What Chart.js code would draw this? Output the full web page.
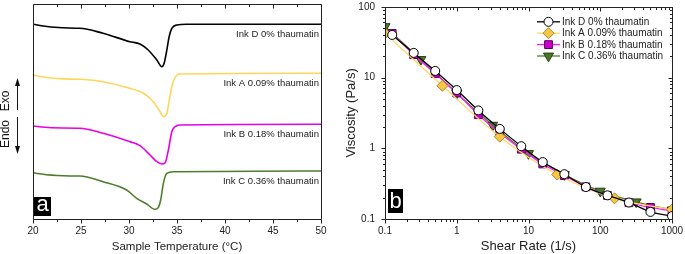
<!DOCTYPE html>
<html><head><meta charset="utf-8">
<script src="https://cdn.jsdelivr.net/npm/chart.js@4.4.0/dist/chart.umd.min.js"></script>
<style>
html,body{margin:0;padding:0;background:#fff;width:685px;height:254px;overflow:hidden}
#ca{position:absolute;left:0;top:0}
#cb{position:absolute;left:340px;top:0}
</style></head><body>
<canvas id="ca" width="340" height="254"></canvas>
<canvas id="cb" width="345" height="254"></canvas>
<script>
const FONT = "'Liberation Sans', Arial, Helvetica, sans-serif";

// ---------- Panel a: DSC curves (heat flow, arbitrary offset units) ----------
const seriesNames = ['Ink D 0% thaumatin', 'Ink A 0.09% thaumatin', 'Ink B 0.18% thaumatin', 'Ink C 0.36% thaumatin'];

const tempD = [20, 20.05, 24.85, 27.3, 30.1, 31.14, 32.0, 32.9, 33.42, 33.66, 33.94, 34.18, 34.46, 34.99, 36, 50];
const heatD = [197.3, 194.7, 190.7, 185.7, 177.3, 175, 169, 159, 152.3, 155.7, 169, 182.3, 190.7, 194, 194.7, 194.7];

const tempA = [20, 20.05, 24.85, 30.1, 31.5, 32.54, 33.24, 33.58, 33.94, 34.2, 34.46, 34.81, 35.3, 50];
const heatA = [147.3, 144, 139.7, 130.7, 125.7, 117.3, 107.3, 102.3, 105.7, 119, 132.3, 141.7, 145, 145.7];

const tempB = [20, 20.05, 24.85, 27.3, 30.1, 31.14, 32.19, 32.9, 33.42, 33.77, 34.1, 34.46, 34.81, 35.3, 50];
const heatB = [97.3, 93, 90.7, 85.7, 77.3, 73.3, 64, 57.3, 55, 56.3, 69, 87.3, 92.3, 94, 94.7];

const tempC = [20, 20.05, 24.85, 27.3, 29.75, 30.8, 31.85, 32.7, 33.06, 33.3, 33.58, 33.94, 34.64, 50];
const heatC = [50.7, 46.3, 43, 37.3, 29, 20.7, 15, 9.7, 11.7, 19, 35.7, 45.7, 47.3, 48];

const tempTicks = [20, 25, 30, 35, 40, 45, 50];
const tempMinorTicks = [22.5, 27.5, 32.5, 37.5, 42.5, 47.5];

// ---------- Panel b: viscosity vs shear rate ----------
const rateD = [0.126, 0.251, 0.501, 1, 2, 3.98, 7.94, 15.8, 31.6, 63.1, 126, 251, 501, 1000];
const viscD = [40, 22.3, 12.4, 6.65, 3.43, 1.88, 1.07, 0.638, 0.43, 0.283, 0.216, 0.171, 0.126, 0.11];

const rateA = [0.1, 0.631, 3.98, 25.1, 158, 1000];
const viscA = [42, 7.65, 1.46, 0.425, 0.196, 0.136];

const rateB = [0.126, 0.251, 0.501, 1, 2, 3.98, 7.94, 15.8, 31.6, 63.1, 126, 251, 501, 1000];
const viscB = [42, 21, 11.4, 6.04, 2.98, 1.65, 0.97, 0.6, 0.41, 0.285, 0.215, 0.17, 0.146, 0.13];

const rateC = [0.1, 0.316, 1, 3.16, 10, 31.6, 100, 316, 1000];
const viscC = [52.6, 18.0, 5.98, 2.12, 0.843, 0.425, 0.248, 0.175, 0.134];

const rateTicks = [0.1, 1, 10, 100, 1000];
const rateTickLabels = ['0.1', '1', '10', '100', '1000'];
const viscTicks = [0.1, 1, 10, 100];
const viscTickLabels = ['0.1', '1', '10', '100'];

const xy = (xs, ys) => xs.map((x, i) => ({x: x, y: ys[i]}));
function minorLog(decades) {
  const out = [];
  for (let d = 0; d < decades.length - 1; d++) for (let k = 2; k <= 9; k++) out.push(decades[d] * k);
  return out;
}
function crisp(p) { return Math.round(p) + 0.5; }
function noPad(s) { s.paddingTop = 0; s.paddingBottom = 0; s.paddingLeft = 0; s.paddingRight = 0; }

function frameAndTicks(cfg) {
  return {
    id: 'frameTicks',
    afterDatasetsDraw(chart) {
      const {ctx, chartArea: a, scales} = chart;
      const xs = scales.x, ys = scales.y;
      ctx.save();
      ctx.strokeStyle = '#222';
      ctx.lineWidth = 1;
      const L = crisp(a.left), R = crisp(a.right), T = crisp(a.top), B = crisp(a.bottom);
      ctx.beginPath();
      ctx.moveTo(L, T); ctx.lineTo(R, T); ctx.lineTo(R, B); ctx.lineTo(L, B); ctx.closePath();
      ctx.stroke();
      ctx.beginPath();
      const hx = (vals, len) => vals.forEach(v => {
        const p = crisp(xs.getPixelForValue(v));
        if (cfg.bottomOut) { ctx.moveTo(p, B); ctx.lineTo(p, B + len); }
        if (cfg.topIn) { ctx.moveTo(p, T); ctx.lineTo(p, T + len); }
      });
      const vy = (vals, len) => vals.forEach(v => {
        const p = crisp(ys.getPixelForValue(v));
        if (cfg.leftOut) { ctx.moveTo(L, p); ctx.lineTo(L - len, p); }
        if (cfg.rightIn) { ctx.moveTo(R, p); ctx.lineTo(R - len, p); }
      });
      hx(cfg.xMajor, 4); hx(cfg.xMinor, 2.5);
      if (cfg.yMajor) { vy(cfg.yMajor, 4); vy(cfg.yMinor, 2.5); }
      ctx.stroke();
      // panel letter
      ctx.fillStyle = '#000';
      ctx.fillRect(a.left + cfg.box[0], a.bottom + cfg.box[1], cfg.box[2], cfg.box[3]);
      ctx.fillStyle = '#fff';
      ctx.font = '22px ' + FONT;
      ctx.textAlign = 'center';
      ctx.textBaseline = 'alphabetic';
      ctx.fillText(cfg.letter, a.left + cfg.box[0] + cfg.box[2] / 2, a.bottom + cfg.box[1] + cfg.box[3] - cfg.base);
      ctx.restore();
    }
  };
}

const dscColors = ['#000000', '#ffd55a', '#e800e8', '#4e7d2b'];
const dscData = [xy(tempD, heatD), xy(tempA, heatA), xy(tempB, heatB), xy(tempC, heatC)];

const dscLabels = {
  id: 'dscLabels',
  afterDatasetsDraw(chart) {
    const {ctx, scales: {x, y}} = chart;
    ctx.save();
    ctx.font = '9.5px ' + FONT;
    ctx.fillStyle = '#222';
    ctx.textAlign = 'right';
    ctx.textBaseline = 'middle';
    chart.data.datasets.forEach((ds, i) => {
      const last = ds.data[ds.data.length - 1];
      ctx.fillText(seriesNames[i], x.getPixelForValue(50) - 2, y.getPixelForValue(last.y) + 10);
    });
    // Endo / Exo annotation
    ctx.fillStyle = '#111';
    ctx.font = '12px ' + FONT;
    ctx.textAlign = 'center';
    ctx.textBaseline = 'middle';
    const yc = y.getPixelForValue(100);
    ctx.save(); ctx.translate(6, yc - 18); ctx.rotate(-Math.PI / 2); ctx.fillText('Exo', 0, 0); ctx.restore();
    ctx.save(); ctx.translate(6, yc + 15); ctx.rotate(-Math.PI / 2); ctx.fillText('Endo', 0, 0); ctx.restore();
    ctx.strokeStyle = '#111'; ctx.lineWidth = 1;
    const ax = 17.5;
    ctx.beginPath(); ctx.moveTo(ax, yc - 9); ctx.lineTo(ax, yc - 38); ctx.stroke();
    ctx.beginPath(); ctx.moveTo(ax, yc - 41); ctx.lineTo(ax - 2.5, yc - 33); ctx.lineTo(ax + 2.5, yc - 33); ctx.closePath(); ctx.fill();
    ctx.beginPath(); ctx.moveTo(ax, yc - 2); ctx.lineTo(ax, yc + 32); ctx.stroke();
    ctx.beginPath(); ctx.moveTo(ax, yc + 35); ctx.lineTo(ax - 2.5, yc + 27); ctx.lineTo(ax + 2.5, yc + 27); ctx.closePath(); ctx.fill();
    ctx.restore();
  }
};

new Chart(document.getElementById('ca'), {
  type: 'line',
  data: {
    datasets: dscData.map((d, i) => ({
      label: seriesNames[i], data: d, borderColor: dscColors[i], borderWidth: 1.6,
      pointRadius: 0, cubicInterpolationMode: 'monotone', fill: false
    }))
  },
  options: {
    responsive: false, animation: false, events: [],
    layout: {padding: {left: 33, right: 19, top: 4, bottom: 0}},
    plugins: {legend: {display: false}, tooltip: {enabled: false}},
    scales: {
      x: {
        type: 'linear', min: 20, max: 50,
        afterFit: s => { s.height = 35; noPad(s); },
        afterBuildTicks: s => { s.ticks = tempTicks.map(v => ({value: v})); },
        grid: {display: false, drawTicks: false}, border: {display: false},
        ticks: {padding: 6, autoSkip: false, maxRotation: 0, color: '#222', font: {size: 10, family: FONT}},
        title: {display: true, text: 'Sample Temperature (°C)', color: '#222', font: {size: 11.5, family: FONT}, padding: {top: 0, bottom: 0}}
      },
      y: {type: 'linear', display: false, min: 0, max: 215}
    }
  },
  plugins: [dscLabels, frameAndTicks({xMajor: tempTicks, xMinor: tempMinorTicks, bottomOut: true, topIn: true, letter: 'a', box: [1, -22, 17, 19], base: 5})]
});

// ---------- Panel b ----------
const rheo = [
  {data: xy(rateD, viscD), line: '#000000', bg: '#ffffff', edge: '#000000', style: 'circle', r: 4.5, rot: 0},
  {data: xy(rateA, viscA), line: '#ffd966', bg: '#f6c646', edge: '#a8862a', style: 'rectRot', r: 5.5, rot: 0},
  {data: xy(rateB, viscB), line: '#ff1aff', bg: '#cc00cc', edge: '#5a005a', style: 'rect', r: 5.5, rot: 0},
  {data: xy(rateC, viscC), line: '#4f7f2c', bg: '#4a7a28', edge: '#263f14', style: 'triangle', r: 5.8, rot: 180}
];

const rheoLegend = {
  id: 'rheoLegend',
  afterDatasetsDraw(chart) {
    const {ctx, chartArea: a} = chart;
    ctx.save();
    const x0 = a.right - 135, y0 = a.top + 15, dy = 11.4;
    rheo.forEach((s, i) => {
      const y = y0 + dy * i;
      ctx.strokeStyle = s.line; ctx.lineWidth = 1.3;
      ctx.beginPath(); ctx.moveTo(x0, y); ctx.lineTo(x0 + 23, y); ctx.stroke();
      ctx.fillStyle = s.bg; ctx.strokeStyle = s.edge; ctx.lineWidth = 1;
      Chart.helpers.drawPoint(ctx, {pointStyle: s.style, radius: s.r, rotation: s.rot, borderWidth: 1}, x0 + 11.5, y);
      ctx.fillStyle = '#222';
      ctx.font = '10px ' + FONT;
      ctx.textAlign = 'left'; ctx.textBaseline = 'middle';
      ctx.fillText(seriesNames[i], x0 + 25, y + 0.5);
    });
    ctx.restore();
  }
};

new Chart(document.getElementById('cb'), {
  type: 'line',
  data: {
    datasets: rheo.map((s, i) => ({
      label: seriesNames[i], data: s.data, borderColor: s.line, borderWidth: 1.3,
      pointStyle: s.style, pointRadius: s.r, pointRotation: s.rot,
      pointBackgroundColor: s.bg, pointBorderColor: s.edge, pointBorderWidth: 1,
      cubicInterpolationMode: 'monotone', fill: false
    }))
  },
  options: {
    responsive: false, animation: false, events: [],
    layout: {padding: {left: 0, right: 13, top: 4, bottom: 0}},
    plugins: {legend: {display: false}, tooltip: {enabled: false}},
    scales: {
      x: {
        type: 'logarithmic', min: 0.1, max: 1000,
        afterFit: s => { s.height = 35; noPad(s); },
        afterBuildTicks: s => { s.ticks = rateTicks.map(v => ({value: v})); },
        grid: {display: false, drawTicks: false}, border: {display: false},
        ticks: {padding: 6, autoSkip: false, maxRotation: 0, color: '#222', font: {size: 10, family: FONT},
          callback: (v) => { const i = rateTicks.indexOf(v); return i >= 0 ? rateTickLabels[i] : ''; }},
        title: {display: true, text: 'Shear Rate (1/s)', color: '#222', font: {size: 13, family: FONT}, padding: {top: 0, bottom: 0}}
      },
      y: {
        type: 'logarithmic', min: 0.1, max: 100,
        afterFit: s => { s.width = 45; noPad(s); },
        afterBuildTicks: s => { s.ticks = viscTicks.map(v => ({value: v})); },
        grid: {display: false, drawTicks: false}, border: {display: false},
        ticks: {padding: 10, autoSkip: false, color: '#222', font: {size: 10, family: FONT},
          callback: (v) => { const i = viscTicks.indexOf(v); return i >= 0 ? viscTickLabels[i] : ''; }},
        title: {display: true, text: 'Viscosity (Pa/s)', color: '#222', font: {size: 13, family: FONT}, padding: {top: 4, bottom: 0}}
      }
    }
  },
  plugins: [rheoLegend, frameAndTicks({xMajor: rateTicks, xMinor: minorLog(rateTicks), yMajor: viscTicks, yMinor: minorLog(viscTicks), bottomOut: true, topIn: true, leftOut: true, rightIn: true, letter: 'b', box: [3, -30, 15, 24], base: 5})]
});
</script>
</body></html>
